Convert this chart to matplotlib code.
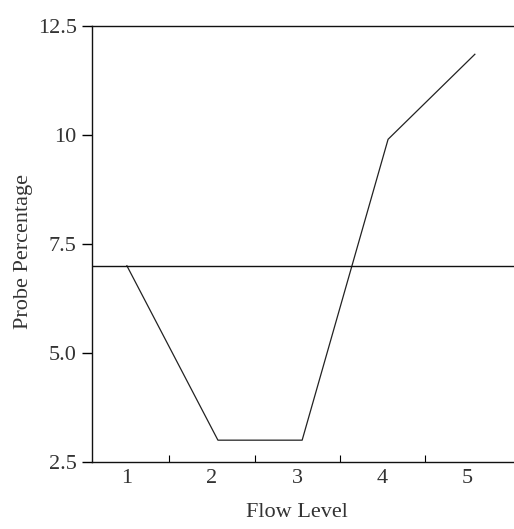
import matplotlib
matplotlib.use("Agg")
import matplotlib.pyplot as plt

flow_levels = [1.0, 2.07, 3.06, 4.07, 5.09]
probe_pct = [7.0, 3.0, 3.0, 9.9, 11.85]
reference_level = 7.0
x_tick_labels = ["1", "2", "3", "4", "5"]
x_tick_pos = [1, 2, 3, 4, 5]
x_minor_pos = [1.5, 2.5, 3.5, 4.5]
y_ticks = [2.5, 5.0, 7.5, 10, 12.5]
y_tick_labels = ["2.5", "5.0", "7.5", "10", "12.5"]

plt.rcParams['font.family'] = ['Liberation Serif', 'DejaVu Serif']

fig = plt.figure(figsize=(5.14, 5.29), dpi=100)
ax = fig.add_axes([0.179, 0.1267, 0.821, 0.8243])

ax.plot(flow_levels, probe_pct, color='#222222', lw=0.9)
ax.axhline(reference_level, color='#111111', lw=1.0)

ax.set_xlim(0.59, 5.55)
ax.set_ylim(2.5, 12.5)

ax.spines['right'].set_visible(False)
for s in ['left', 'top', 'bottom']:
    ax.spines[s].set_linewidth(1.0)
    ax.spines[s].set_color('#111111')

ax.set_yticks(y_ticks)
ax.set_yticklabels(y_tick_labels, fontsize=16, color='#333333')
ax.tick_params(axis='y', direction='out', length=7, width=1.0, pad=4)

ax.set_xticks(x_tick_pos)
ax.set_xticklabels(x_tick_labels, fontsize=16, color='#333333')
ax.tick_params(axis='x', which='major', length=0, pad=5)
ax.set_xticks(x_minor_pos, minor=True)
ax.tick_params(axis='x', which='minor', direction='in', length=5, width=0.8)

ax.set_xlabel("Flow Level", fontsize=16, color='#333333')
ax.set_ylabel("Probe Percentage", fontsize=16, color='#333333')
ax.yaxis.set_label_coords(-0.14, 0.482)
ax.xaxis.set_label_coords(0.486, -0.095)

fig.savefig("out.png", dpi=100)
